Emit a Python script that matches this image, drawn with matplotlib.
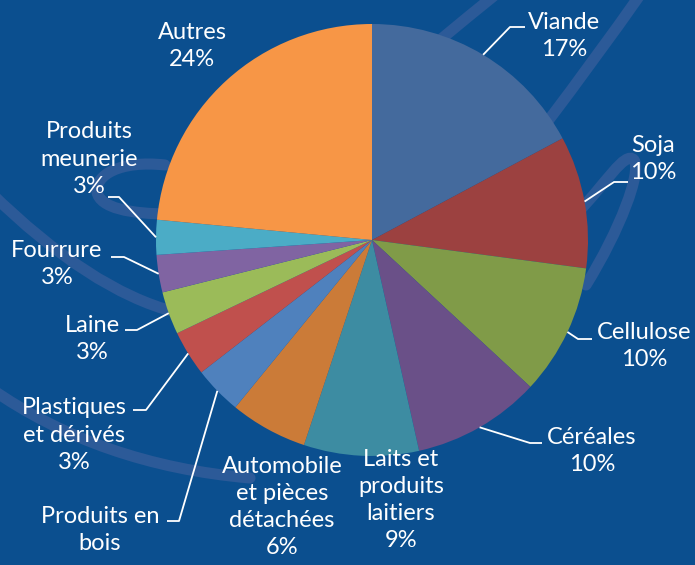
import matplotlib.pyplot as plt
from matplotlib.path import Path
from matplotlib.patches import PathPatch
import numpy as np

# data
categories = ["Viande", "Soja", "Cellulose", "Céréales",
              "Laits et\nproduits\nlaitiers", "Automobile\net pièces\ndétachées",
              "Produits en\nbois", "Plastiques\net dérivés", "Laine", "Fourrure",
              "Produits\nmeunerie", "Autres"]
values = [17.2, 9.9, 9.8, 9.6, 8.6, 5.8, 3.6, 3.4, 3.2, 2.8, 2.6, 23.5]
show_pct = [True, True, True, True, True, True, False, True, True, True, True, True]

colors = ["#446A9D", "#9C4140", "#809B48", "#6A5088", "#3D8CA2", "#CB7B38",
          "#4F81BD", "#C0504D", "#9BBB59", "#8064A2", "#4BACC6", "#F79646"]

# label layout in image pixels: text centre x, y, leader elbow (or None), leader end x
label_pos = [
    (564, 36, (510, 27), 525),
    (653, 159, (614, 182), 628),
    (644, 346, (578, 339), 592),
    (592, 451, (530, 443), 542),
    (401, 500, None, None),
    (282, 507, None, None),
    (100, 530, (179, 521), 167),
    (74, 435, (146, 410), 133),
    (92, 339, (137, 330), 125),
    (57, 264, (124, 257), 111),
    (89, 159, (119, 197), 108),
    (192, 46, None, None),
]

W, H = 695, 565
bg = "#0B4F8F"
swirl = "#2C5A98"
cx, cy, r = 372, 240, 216

plt.rcParams['font.family'] = ['Lato', 'DejaVu Sans']

fig = plt.figure(figsize=(W / 100, H / 100), dpi=100, facecolor=bg)
ax = fig.add_axes([0, 0, 1, 1])
ax.set_facecolor(bg)

# decorative swirls of the slide background
C3, C4, M = Path.CURVE3, Path.CURVE4, Path.MOVETO
swirls = [
    ([(495, -5), (470, 15), (440, 40)], [M, C3, C3]),
    ([(640, -5), (598, 55), (545, 125)], [M, C3, C3]),
    ([(578, 212), (605, 185), (625, 150), (634, 160),
      (642, 172), (620, 230), (586, 285)], [M, C4, C4, C4, C4, C4, C4]),
    ([(165, 165), (120, 160), (95, 175), (97, 192),
      (100, 208), (130, 214), (170, 214)], [M, C4, C4, C4, C4, C4, C4]),
    ([(-10, 192), (90, 290), (175, 312)], [M, C3, C3]),
    ([(-10, 388), (100, 465), (250, 478)], [M, C3, C3]),
]
for pts, codes in swirls:
    ax.add_patch(PathPatch(Path(pts, codes), fill=False, edgecolor=swirl,
                           lw=8, capstyle='round', zorder=1))

# y axis is inverted, so this runs clockwise from the top
wedges, _ = ax.pie(values, colors=colors, center=(cx, cy), radius=r,
                   startangle=-90, counterclock=True,
                   wedgeprops=dict(linewidth=0, zorder=2))

for w, name, v, shown, (tx, ty, elbow, ex) in zip(wedges, categories, values,
                                                 show_pct, label_pos):
    txt = name + (f"\n{v:.0f}%" if shown else "")
    ax.text(tx, ty, txt, color="white", fontsize=17, ha="center", va="center",
            multialignment="center", linespacing=1.36, zorder=4)
    if elbow is not None:
        mid = np.deg2rad((w.theta1 + w.theta2) / 2)
        sx, sy = cx + r * np.cos(mid), cy + r * np.sin(mid)
        ax.plot([sx, elbow[0], ex], [sy, elbow[1], elbow[1]], color="white",
                lw=1.3, zorder=3, solid_capstyle='butt')

ax.set_xlim(0, W)
ax.set_ylim(H, 0)
ax.set_aspect('auto')
ax.axis('off')

fig.savefig("out.png", dpi=100, facecolor=bg)
